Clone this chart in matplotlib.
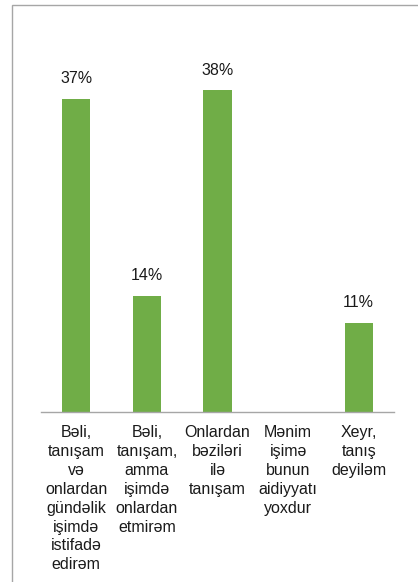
import matplotlib.pyplot as plt
from matplotlib.patches import Rectangle

categories = [
    "Bəli,\ntanışam\nvə\nonlardan\ngündəlik\nişimdə\nistifadə\nedirəm",
    "Bəli,\ntanışam,\namma\nişimdə\nonlardan\netmirəm",
    "Onlardan\nbəziləri\nilə\ntanışam",
    "Mənim\nişimə\nbunun\naidiyyatı\nyoxdur",
    "Xeyr,\ntanış\ndeyiləm",
]
values = [0.37, 0.137, 0.38, 0.0, 0.105]
labels = ["37%", "14%", "38%", "", "11%"]

plt.rcParams['font.family'] = ['Liberation Sans', 'DejaVu Sans']
text_color = '#1a1a1a'
bar_color = '#70AD47'

W, H = 418, 582
fig = plt.figure(figsize=(W / 100, H / 100), dpi=100)

# outer chart border (cropped on right and bottom)
fig.patches.append(Rectangle((11.5 / W, -0.1), 1.0, (H - 4.5) / H + 0.1,
                             transform=fig.transFigure, fill=False,
                             edgecolor='#a6a6a6', linewidth=1.0))

ax = fig.add_axes([41 / W, (H - 411.5) / H, 353 / W, 338 / H])
x = range(len(values))
ax.bar(x, values, width=0.4, color=bar_color)
ax.set_xlim(-0.5, len(values) - 0.5)
ax.set_ylim(0, 0.40)

for xi, v, lab in zip(x, values, labels):
    if lab:
        ax.annotate(lab, (xi, v), xytext=(0, 14.3), textcoords='offset points',
                    ha='center', va='center', fontsize=11.5, color=text_color)

ax.set_xticks(list(x))
ax.set_xticklabels(categories, fontsize=11.5, color=text_color, linespacing=1.32)
ax.tick_params(axis='x', length=0, pad=10)
ax.set_yticks([])
for s in ['top', 'right', 'left']:
    ax.spines[s].set_visible(False)
ax.spines['bottom'].set_color('#a6a6a6')
ax.spines['bottom'].set_linewidth(1.0)
ax.patch.set_alpha(0)

fig.savefig('out.png', dpi=100)
